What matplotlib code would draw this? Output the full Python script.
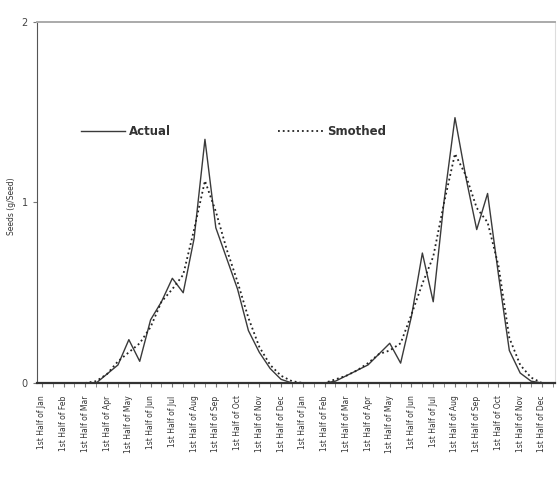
#! /usr/bin/env python3

#A program for plotting the actual and smoothed half-monthly values.

import matplotlib
matplotlib.use('Agg')
import matplotlib.pyplot as plt

#The half month periods over two years.
months = ['Jan', 'Feb', 'Mar', 'Apr', 'May', 'Jun',
          'Jul', 'Aug', 'Sep', 'Oct', 'Nov', 'Dec']
periods = []
for year in range(2) :
  for m in months :
    periods.append('1st Half of ' + m)
    periods.append('2nd Half of ' + m)

actual = [0, 0, 0, 0, 0, 0, 0.05, 0.10, 0.24, 0.12,
          0.35, 0.45, 0.58, 0.50, 0.80, 1.35, 0.86, 0.69, 0.52, 0.29,
          0.17, 0.08, 0.02, 0, 0, 0, 0, 0.01, 0.04, 0.07,
          0.10, 0.16, 0.22, 0.11, 0.37, 0.72, 0.45, 1.01, 1.47, 1.14,
          0.85, 1.05, 0.60, 0.18, 0.055, 0.01, 0, 0]

smoothed = [0, 0, 0, 0, 0, 0.01, 0.05, 0.12, 0.17, 0.22,
            0.31, 0.45, 0.52, 0.60, 0.85, 1.12, 0.95, 0.74, 0.56, 0.36,
            0.20, 0.10, 0.04, 0.01, 0, 0, 0, 0.02, 0.04, 0.07,
            0.11, 0.16, 0.18, 0.22, 0.38, 0.55, 0.70, 1.00, 1.27, 1.15,
            0.97, 0.89, 0.65, 0.25, 0.10, 0.03, 0, 0]

yTicks = [0, 1, 2]
yLabel = 'Seeds (g/Seed)'

def main() :
  x = list(range(len(periods)))

  plt.close('all')
  fig = plt.figure(figsize = (5.58, 4.87), dpi = 100)
  ax = fig.add_axes([0.0663, 0.2136, 0.9283, 0.7412])

  ax.plot(x, actual, color = '#3a3a3a', linewidth = 1.0, label = 'Actual')
  ax.plot(x, smoothed, color = '#222222', linewidth = 1.3, linestyle = ':',
          label = 'Smothed')

  ax.set_xlim(-0.45, 47.2)
  ax.set_ylim(0, 2)

  #Label every other period, small ticks for the rest.
  ax.set_xticks(x[0::2])
  ax.set_xticklabels(periods[0::2], rotation = 90, fontsize = 5.5, color = '#333333')
  ax.set_xticks(x[1::2], minor = True)
  ax.tick_params(axis = 'x', which = 'both', length = 3, color = '#777777', pad = 6)

  ax.set_yticks(yTicks)
  ax.set_yticklabels([str(v) for v in yTicks], fontsize = 7, color = '#444444')
  ax.tick_params(axis = 'y', length = 3, color = '#777777')
  ax.set_ylabel(yLabel, fontsize = 5.5, color = '#333333', labelpad = 2)
  ax.yaxis.set_label_coords(-0.04, 0.49)

  ax.spines['left'].set_color('#555555')
  ax.spines['bottom'].set_color('#333333')
  ax.spines['bottom'].set_linewidth(1.6)
  ax.spines['top'].set_color('#aaaaaa')
  ax.spines['top'].set_linewidth(1.4)
  ax.spines['right'].set_color('#dddddd')

  leg = ax.legend(ncol = 2, loc = (0.075, 0.665), frameon = False,
                  handlelength = 3.8, columnspacing = 9.1, handletextpad = 0.3,
                  prop = {'weight' : 'bold', 'size' : 8.5})
  for t in leg.get_texts() :
    t.set_color('#333333')

  fig.savefig('out.png', dpi = 100)

if __name__ == '__main__':
  main()
